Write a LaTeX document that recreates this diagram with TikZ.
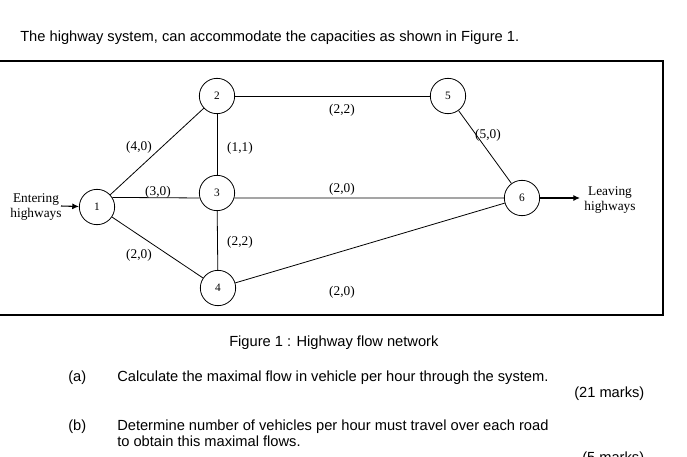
\documentclass[tikz,border=0pt]{standalone}
\usepackage{fontspec}
\setmainfont{Liberation Serif}
\newfontfamily\arialf{Liberation Sans}
\usetikzlibrary{arrows.meta}
\begin{document}
\begin{tikzpicture}[x=0.75pt,y=-0.75pt,
  vertex/.style={draw,circle,line width=0.6pt,minimum size=26.5pt,inner sep=0pt,font=\fontsize{8.5}{10}\selectfont},
  road/.style={line width=0.6pt},
  caplabel/.style={font=\fontsize{10}{11}\selectfont,inner sep=0pt},
  side/.style={font=\fontsize{10}{11}\selectfont,align=center,inner sep=0pt},
  sans/.style={font=\arialf\fontsize{11}{13}\selectfont,inner sep=0pt,anchor=base west},
  flow/.style={line width=0.8pt,-{Latex[length=5pt,width=4.5pt]}}]
\useasboundingbox (0,0) rectangle (687,457);
\fill[white] (0,0) rectangle (687,457);
% title
\node[sans] (title) at (20,41) {The highway system, can accommodate the capacities as shown in Figure 1.};
% frame
\draw[line width=0.9pt] (-2,61) rectangle (663,315);
% vertices
\node[vertex] (n1) at (97,207) {1};
\node[vertex] (n2) at (217,96) {2};
\node[vertex] (n3) at (217,193) {3};
\node[vertex] (n4) at (218,288) {4};
\node[vertex] (n5) at (448,96) {5};
\node[vertex] (n6) at (522,198) {6};
% roads
\draw[road] (n1) -- (n2);
\draw[road] (n1) -- (n4);
\draw[road] (n2) -- (n3);
\draw[road] (n3) -- (n4);
\draw[road] (n2) -- (n5);
\draw[road] (n5) -- (n6);
\draw[road] (n4) -- (n6);
\draw[road] (n1.32) -- (n3.196);
\draw[road] (n3.-16) -- (n6);
% capacities
\node[caplabel] (c12) at (139,147) {(4,0)};
\node[caplabel] (c23) at (240,148) {(1,1)};
\node[caplabel] (c13) at (158,192) {(3,0)};
\node[caplabel] (c14) at (139,255) {(2,0)};
\node[caplabel] (c34) at (240,242) {(2,2)};
\node[caplabel] (c25) at (342,110) {(2,2)};
\node[caplabel] (c36) at (342,189) {(2,0)};
\node[caplabel] (c46) at (342,292) {(2,0)};
\node[caplabel] (c56) at (488,135) {(5,0)};
% entering / leaving
\node[side] (enter) at (36,207) {Entering\\highways};
\node[side] (leave) at (610,200) {Leaving\\highways};
\coordinate (ein) at (61,206);
\coordinate (eout) at (580,198);
\draw[flow] (ein) -- (n1);
\draw[flow] (n6) -- (eout);
% caption and questions
\node[sans] (caption) at (229,346) {Figure 1 : Highway flow network};
\node[sans] (qa) at (68,381) {(a)};
\node[sans] (qat) at (117,381) {Calculate the maximal flow in vehicle per hour through the system.};
\node[sans] (ma) at (574,397) {(21 marks)};
\node[sans] (qb) at (68,430) {(b)};
\node[sans] (qbt) at (117,430) {Determine number of vehicles per hour must travel over each road};
\node[sans] (qbt2) at (117,446) {to obtain this maximal flows.};
\node[sans] (mb) at (582,462) {(5 marks)};
\end{tikzpicture}
\end{document}
